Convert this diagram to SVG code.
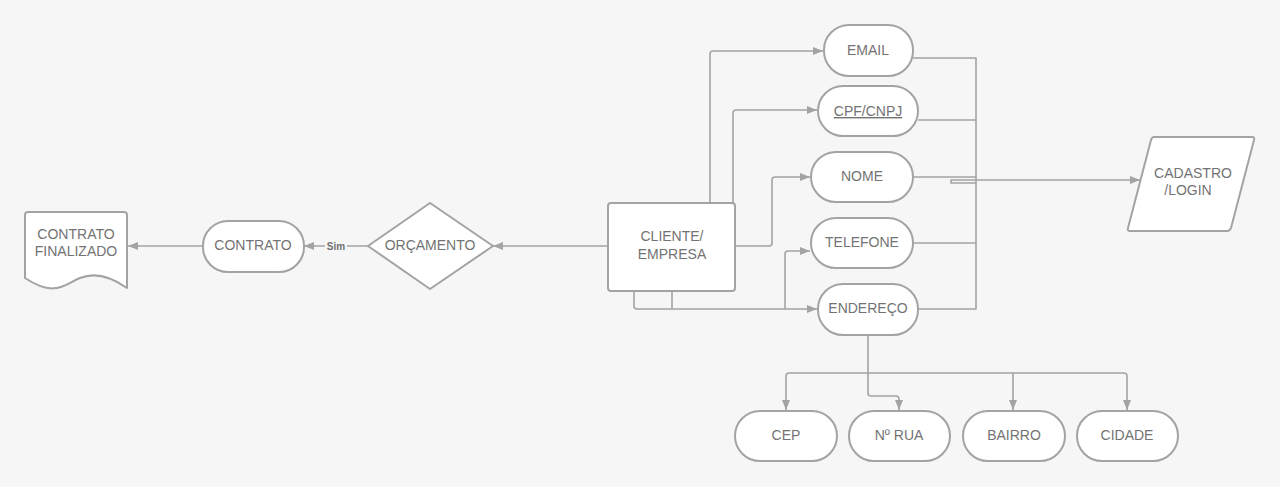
<svg xmlns="http://www.w3.org/2000/svg" width="1280" height="487" viewBox="0 0 1280 487">
<defs>
<style>
.shape{fill:#ffffff;stroke:#a3a3a3;stroke-width:2}
.conn{fill:none;stroke:#a3a3a3;stroke-width:1.6;stroke-linejoin:round}
.txt{font-family:"Liberation Sans",Arial,sans-serif;font-size:14px;fill:#737373;text-anchor:middle}
.lbl{font-family:"Liberation Sans",Arial,sans-serif;font-size:10px;font-weight:bold;fill:#707070;text-anchor:middle}
</style>
<marker id="arr" viewBox="0 0 10 10" refX="10" refY="5" markerWidth="10" markerHeight="10" markerUnits="userSpaceOnUse" orient="auto">
<path d="M0,1 L10,5 L0,9 Z" fill="#a3a3a3"/>
</marker>
</defs>
<rect x="0" y="0" width="1280" height="487" fill="#f6f6f6"/>

<g id="connectors">
<path class="conn" d="M710,203 V54 Q710,51 713,51 H823" marker-end="url(#arr)"/>
<path class="conn" d="M733,203 V113 Q733,110 736,110 H817" marker-end="url(#arr)"/>
<path class="conn" d="M735,246 H769 Q772,246 772,243 V180 Q772,177 775,177 H810" marker-end="url(#arr)"/>
<path class="conn" d="M634,291 V306 Q634,309 637,309 H817" marker-end="url(#arr)"/>
<path class="conn" d="M672,291 V309"/>
<path class="conn" d="M785,309 V254 Q785,251 788,251 H810" marker-end="url(#arr)"/>
<path class="conn" d="M913,58 H976 V309 H918"/>
<path class="conn" d="M918,120 H976"/>
<path class="conn" d="M913,177 H976"/>
<path class="conn" d="M913,243 H976"/>
<path class="conn" d="M976,183 H951 V180 H1140" marker-end="url(#arr)"/>
<path class="conn" d="M608,246 H493" marker-end="url(#arr)"/>
<path class="conn" d="M368,246 H304" marker-end="url(#arr)"/>
<rect x="325" y="240" width="22" height="12" fill="#f6f6f6"/>
<text class="lbl" x="336" y="249.5">Sim</text>
<path class="conn" d="M202,246 H128" marker-end="url(#arr)"/>
<path class="conn" d="M868,335 V393 Q868,396 871,396 H896 Q899,396 899,399 V410" marker-end="url(#arr)"/>
<path class="conn" d="M868,373 H789 Q786,373 786,376 V410" marker-end="url(#arr)"/>
<path class="conn" d="M868,373 H1124 Q1127,373 1127,376 V410" marker-end="url(#arr)"/>
<path class="conn" d="M1013,373 V410" marker-end="url(#arr)"/>
</g>

<g id="email"><rect class="shape" x="824" y="25" width="89" height="51" rx="25"/><text class="txt" x="868" y="55">EMAIL</text></g>
<g id="cpf"><rect class="shape" x="818" y="86" width="100" height="50" rx="25"/><text class="txt" x="868" y="116" text-decoration="underline">CPF/CNPJ</text></g>
<g id="nome"><rect class="shape" x="811" y="152" width="102" height="50" rx="25"/><text class="txt" x="862" y="181">NOME</text></g>
<g id="telefone"><rect class="shape" x="811" y="218" width="102" height="50" rx="25"/><text class="txt" x="862" y="247">TELEFONE</text></g>
<g id="endereco"><rect class="shape" x="818" y="284" width="100" height="51" rx="25"/><text class="txt" x="868" y="313">ENDEREÇO</text></g>
<g id="cliente"><rect class="shape" x="608" y="203" width="127" height="88" rx="3"/><text class="txt" x="672" y="241">CLIENTE/</text><text class="txt" x="672" y="259">EMPRESA</text></g>
<g id="orcamento"><path class="shape" d="M430,203 L493,246 L430,289 L368,246 Z" stroke-linejoin="round"/><text class="txt" x="430" y="250">ORÇAMENTO</text></g>
<g id="contrato"><rect class="shape" x="203" y="221" width="101" height="51" rx="25"/><text class="txt" x="253" y="250">CONTRATO</text></g>
<g id="contrato-finalizado"><path class="shape" d="M28,212 H124 Q127,212 127,215 V288 C110,276 95,272 80,278 C65,284 55,298 25,278 V215 Q25,212 28,212 Z" stroke-linejoin="round"/><text class="txt" x="76" y="239">CONTRATO</text><text class="txt" x="76" y="256">FINALIZADO</text></g>
<g id="cadastro"><path class="shape" d="M1154,137 H1252 Q1255,137 1254,140 L1231,228 Q1230,231 1227,231 H1130 Q1127,231 1128,228 L1151,140 Q1152,137 1154,137 Z"/><text class="txt" x="1193" y="178">CADASTRO</text><text class="txt" x="1188" y="195">/LOGIN</text></g>
<g id="cep"><rect class="shape" x="735" y="411" width="102" height="50" rx="25"/><text class="txt" x="786" y="440">CEP</text></g>
<g id="nrua"><rect class="shape" x="849" y="411" width="101" height="50" rx="25"/><text class="txt" x="899" y="440">Nº RUA</text></g>
<g id="bairro"><rect class="shape" x="963" y="411" width="102" height="50" rx="25"/><text class="txt" x="1014" y="440">BAIRRO</text></g>
<g id="cidade"><rect class="shape" x="1077" y="411" width="101" height="50" rx="25"/><text class="txt" x="1127" y="440">CIDADE</text></g>
</svg>
